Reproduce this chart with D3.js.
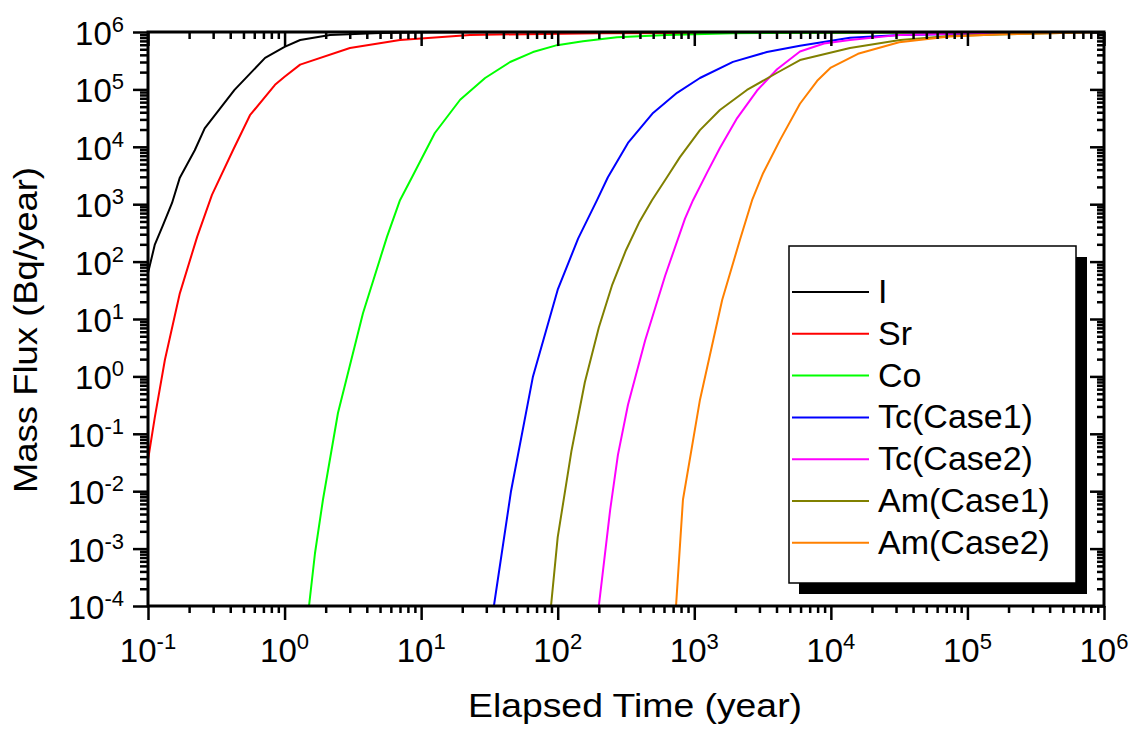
<!DOCTYPE html>
<html>
<head>
<meta charset="utf-8">
<script src="https://cdn.jsdelivr.net/npm/d3@7"></script>
<style>
  body { margin: 0; background: #fff; }
  text { font-family: Arial, "Liberation Sans", sans-serif; fill: #000; }
</style>
</head>
<body>
<svg id="chart" width="1138" height="735"></svg>
<script>

// series (time in years, flux in Bq/year)
var seriesNames = ["I", "Sr", "Co", "Tc(Case1)", "Tc(Case2)", "Am(Case1)", "Am(Case2)"];
var seriesColors = ["#000000", "#ff0000", "#00ff00", "#0000ff", "#ff00ff", "#808000", "#ff8000"];

var timeI = [0.1, 0.112, 0.129, 0.15, 0.171, 0.22, 0.26, 0.35, 0.43, 0.72, 1, 1.3, 2.15, 5, 10, 100, 1e6];
var fluxI = [63, 195, 436, 1050, 2900, 8700, 21000, 52000, 98000, 355000, 550000, 725000, 890000, 960000, 980000, 1e6, 1e6];

var timeSr = [0.1, 0.112, 0.133, 0.171, 0.229, 0.294, 0.419, 0.558, 0.851, 1, 1.3, 3.01, 7, 22.8, 204, 1e6];
var fluxSr = [0.035, 0.19, 1.95, 28, 270, 1450, 8700, 35500, 120000, 166000, 270000, 525000, 725000, 890000, 955000, 1e6];

var timeCo = [1.51, 1.67, 1.91, 2.46, 3.75, 5.62, 7, 8.57, 12.6, 19.3, 29.4, 44.8, 65.9, 98.9, 153, 272, 631, 1920, 1e6];
var fluxCo = [1e-4, 8.3e-4, 7.1e-3, 0.23, 12.6, 270, 1175, 2950, 17400, 66000, 158000, 300000, 447000, 590000, 690000, 810000, 890000, 955000, 1e6];

var timeTc1 = [34.1, 45.5, 65.9, 100, 141, 194, 233, 327, 499, 748, 1100, 1920, 3400, 5940, 13800, 32100, 174000, 1e6];
var fluxTc1 = [1e-4, 0.01, 1, 32.4, 251, 1175, 2950, 11700, 38900, 87100, 158000, 302000, 447000, 575000, 794000, 891000, 955000, 1e6];

var timeTc2 = [200, 242, 276, 327, 437, 611, 855, 979, 1240, 1540, 2060, 2880, 4040, 5940, 8910, 13800, 32100, 174000, 1e6];
var fluxTc2 = [1e-4, 4.7e-3, 0.043, 0.32, 4.27, 56.2, 562, 1175, 3550, 9550, 31600, 95500, 224000, 457000, 631000, 724000, 891000, 977000, 1e6];

var timeAm1 = [89.3, 100, 126, 158, 200, 251, 316, 398, 490, 631, 785, 1100, 1540, 2430, 4040, 5940, 13800, 32100, 74500, 398000, 1e6];
var fluxAm1 = [1e-4, 1.58e-3, 0.05, 0.79, 7.1, 39.8, 158, 501, 1175, 2950, 6610, 19500, 43700, 97700, 195000, 324000, 525000, 724000, 851000, 955000, 1e6];

var timeAm2 = [735, 826, 1100, 1600, 2160, 2650, 3190, 4250, 5940, 7940, 10000, 15800, 31600, 74100, 174000, 1e6];
var fluxAm2 = [1e-4, 7.1e-3, 0.389, 21.4, 240, 1175, 3470, 13200, 56200, 141000, 240000, 417000, 661000, 832000, 912000, 1e6];

var seriesTimes = [timeI, timeSr, timeCo, timeTc1, timeTc2, timeAm1, timeAm2];
var seriesFluxes = [fluxI, fluxSr, fluxCo, fluxTc1, fluxTc2, fluxAm1, fluxAm2];

var xTicks = [0.1, 1, 10, 100, 1e3, 1e4, 1e5, 1e6];
var xTickExps = ["-1", "0", "1", "2", "3", "4", "5", "6"];
var yTicks = [1e-4, 1e-3, 1e-2, 1e-1, 1, 10, 100, 1e3, 1e4, 1e5, 1e6];
var yTickExps = ["-4", "-3", "-2", "-1", "0", "1", "2", "3", "4", "5", "6"];

var xTitle = "Elapsed Time (year)";
var yTitle = "Mass Flux (Bq/year)";

// layout (plot frame in px)
var plotL = 148, plotR = 1104, plotT = 32, plotB = 606;

var svg = d3.select("#chart");

var x = d3.scaleLog().domain([0.1, 1e6]).range([plotL, plotR]);
var y = d3.scaleLog().domain([1e-4, 1e6]).range([plotB, plotT]);

function minorsOf(majors) {
  var out = [];
  for (var i = 0; i < majors.length - 1; i++) {
    for (var k = 2; k <= 9; k++) out.push(majors[i] * k);
  }
  return out;
}
var xMinor = minorsOf(xTicks);
var yMinor = minorsOf(yTicks);

svg.append("rect").attr("width", 1138).attr("height", 735).attr("fill", "#fff");

svg.append("clipPath").attr("id", "plotClip")
  .append("rect")
  .attr("x", plotL).attr("y", plotT)
  .attr("width", plotR - plotL).attr("height", plotB - plotT);

// curves
var line = d3.line()
  .x(function(d){ return x(d[0]); })
  .y(function(d){ return y(d[1]); });

var curves = svg.append("g").attr("clip-path", "url(#plotClip)");
seriesNames.forEach(function(name, i) {
  var pts = seriesTimes[i].map(function(t, j){ return [t, seriesFluxes[i][j]]; });
  curves.append("path")
    .attr("d", line(pts))
    .attr("fill", "none")
    .attr("stroke", seriesColors[i])
    .attr("stroke-width", 2)
    .attr("stroke-linejoin", "round");
});

// axes: ticks from d3 axes, frame drawn separately
function tickAxis(axis, values, size, transform) {
  var g = svg.append("g")
    .attr("transform", transform)
    .call(axis.tickValues(values).tickSize(size).tickSizeOuter(0).tickFormat(""));
  g.select(".domain").remove();
  g.selectAll(".tick line").attr("stroke", "#000").attr("stroke-width", 2.5);
  return g;
}

tickAxis(d3.axisBottom(x), xTicks, 14, "translate(0," + plotB + ")");
tickAxis(d3.axisBottom(x), xMinor, 7, "translate(0," + plotB + ")");
tickAxis(d3.axisTop(x), xTicks, -14, "translate(0," + plotT + ")");
tickAxis(d3.axisTop(x), xMinor, -7, "translate(0," + plotT + ")");
tickAxis(d3.axisLeft(y), yTicks, 15, "translate(" + plotL + ",0)");
tickAxis(d3.axisLeft(y), yMinor, 8, "translate(" + plotL + ",0)");
tickAxis(d3.axisRight(y), yTicks, -14, "translate(" + plotR + ",0)");
tickAxis(d3.axisRight(y), yMinor, -7, "translate(" + plotR + ",0)");

svg.append("rect")
  .attr("x", plotL).attr("y", plotT)
  .attr("width", plotR - plotL).attr("height", plotB - plotT)
  .attr("fill", "none")
  .attr("stroke", "#000")
  .attr("stroke-width", 3);

// tick labels as 10^n
function powerLabel(textSel, exps) {
  textSel.append("tspan").text("10");
  textSel.append("tspan")
    .attr("dy", -13)
    .style("font-size", "22px")
    .text(function(d, i){ return exps[i]; });
}

svg.append("g").selectAll("text")
  .data(xTicks)
  .enter().append("text")
  .attr("x", function(d){ return x(d); })
  .attr("y", 662)
  .attr("text-anchor", "middle")
  .style("font-size", "33px")
  .call(powerLabel, xTickExps);

svg.append("g").selectAll("text")
  .data(yTicks)
  .enter().append("text")
  .attr("x", 124)
  .attr("y", function(d){ return y(d) + 13; })
  .attr("text-anchor", "end")
  .style("font-size", "33px")
  .call(powerLabel, yTickExps);

// titles
svg.append("text")
  .attr("x", 635).attr("y", 717)
  .attr("text-anchor", "middle")
  .attr("textLength", 334)
  .attr("lengthAdjust", "spacingAndGlyphs")
  .style("font-size", "34px")
  .text(xTitle);

svg.append("text")
  .attr("transform", "translate(37,330) rotate(-90)")
  .attr("text-anchor", "middle")
  .attr("textLength", 326)
  .attr("lengthAdjust", "spacingAndGlyphs")
  .style("font-size", "34px")
  .text(yTitle);

// legend with drop shadow
var lg = svg.append("g");
lg.append("rect")
  .attr("x", 799).attr("y", 257)
  .attr("width", 288).attr("height", 337)
  .attr("fill", "#000");
lg.append("rect")
  .attr("x", 789).attr("y", 246)
  .attr("width", 287).attr("height", 337)
  .attr("fill", "#fff")
  .attr("stroke", "#000")
  .attr("stroke-width", 1.5);

var rows = lg.selectAll("g.row")
  .data(seriesNames)
  .enter().append("g")
  .attr("class", "row")
  .attr("transform", function(d, i){ return "translate(0," + (303 + i * 41.8) + ")"; });

rows.append("line")
  .attr("x1", 792).attr("x2", 869)
  .attr("y1", -11).attr("y2", -11)
  .attr("stroke", function(d, i){ return seriesColors[i]; })
  .attr("stroke-width", 2);

rows.append("text")
  .attr("x", 878)
  .attr("y", 0)
  .style("font-size", "34px")
  .text(function(d){ return d; });

</script>
</body>
</html>
